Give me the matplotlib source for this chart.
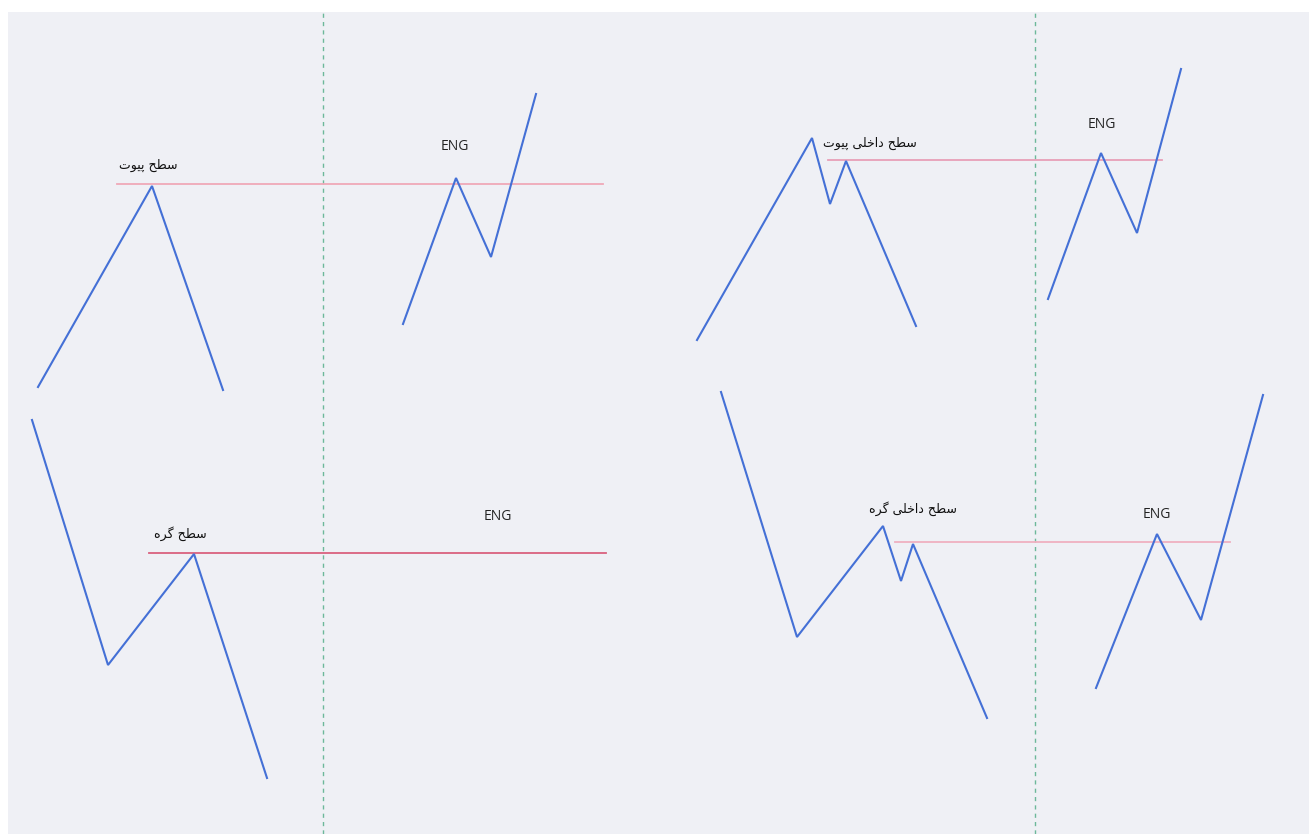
import matplotlib
matplotlib.use("Agg")
import matplotlib.pyplot as plt

# ---- data (chart units, x to the right, y downward) ----
pivot_x = [38, 152, 223]
pivot_y = [387, 186, 390]
pivot_eng_x = [403, 456, 491, 536]
pivot_eng_y = [324, 178, 257, 94]

inner_pivot_x = [697, 812, 830, 846, 916]
inner_pivot_y = [340, 138, 204, 161, 326]
inner_pivot_eng_x = [1048, 1101, 1137, 1181]
inner_pivot_eng_y = [299, 153, 233, 69]

node_x = [32, 108, 194, 267]
node_y = [420, 665, 554, 778]

inner_node_x = [721, 797, 883, 901, 913, 987]
inner_node_y = [392, 637, 526, 581, 544, 718]
inner_node_eng_x = [1096, 1157, 1201, 1263]
inner_node_eng_y = [688, 534, 620, 395]

# horizontal levels: (y, x_start, x_end)
level_y = [184, 160, 553, 542]
level_x0 = [117, 828, 149, 895]
level_x1 = [603, 1162, 606, 1230]
level_colors = ["#f0a8b8", "#e8a0b8", "#d9607e", "#f0b0c0"]

divider_x = [323, 1035]

# labels (Persian, shaped into presentation forms, visual order)
label_pivot = "\uFE95\uFEEE\uFBFF\uFB58 \uFEA2\uFEC4\uFEB3"                     # سطح پیوت
label_inner_pivot = "\uFE95\uFEEE\uFBFF\uFB58 \uFBFD\uFEE0\uFEA7\uFE8D\uFEA9 \uFEA2\uFEC4\uFEB3"  # سطح داخلی پیوت
label_node = "\uFEE9\uFEAE\uFB94 \uFEA2\uFEC4\uFEB3"                            # سطح گره
label_inner_node = "\uFEE9\uFEAE\uFB94 \uFBFD\uFEE0\uFEA7\uFE8D\uFEA9 \uFEA2\uFEC4\uFEB3"  # سطح داخلی گره
label_pos = [(148, 165), (870, 143), (180, 534), (913, 509)]
eng_pos = [(455, 146), (1102, 125), (498, 516), (1157, 515)]

BLUE = "#4470d6"
BG = "#eff0f5"

fig = plt.figure(figsize=(13.09, 8.34), dpi=100)
fig.patch.set_facecolor("white")
ax = fig.add_axes([8 / 1309, 0, 1 - 8 / 1309, (834 - 12) / 834])
ax.set_facecolor(BG)
ax.set_xlim(8, 1309)
ax.set_ylim(834, 12)
ax.set_xticks([])
ax.set_yticks([])
for s in ax.spines.values():
    s.set_visible(False)

for dx in divider_x:
    ax.axvline(dx, color="#6db89a", lw=1.0, ls=(0, (3, 3)), zorder=1)

for y, x0, x1, c in zip(level_y, level_x0, level_x1, level_colors):
    ax.plot([x0, x1], [y, y], color=c, lw=1.3, zorder=2)

for xs, ys in [(pivot_x, pivot_y), (pivot_eng_x, pivot_eng_y),
               (inner_pivot_x, inner_pivot_y), (inner_pivot_eng_x, inner_pivot_eng_y),
               (node_x, node_y), (inner_node_x, inner_node_y),
               (inner_node_eng_x, inner_node_eng_y)]:
    ax.plot(xs, ys, color=BLUE, lw=1.5, zorder=3, solid_joinstyle="miter")

for txt, (x, y) in zip([label_pivot, label_inner_pivot, label_node, label_inner_node], label_pos):
    ax.text(x, y, txt, ha="center", va="center", fontsize=9,
            family=["DejaVu Sans"], color="#111111", zorder=4)

for (x, y) in eng_pos:
    ax.text(x, y, "ENG", ha="center", va="center", fontsize=10,
            family=["Open Sans", "DejaVu Sans"], color="#222222", zorder=4)

fig.savefig("out.png", dpi=100, facecolor="white")
